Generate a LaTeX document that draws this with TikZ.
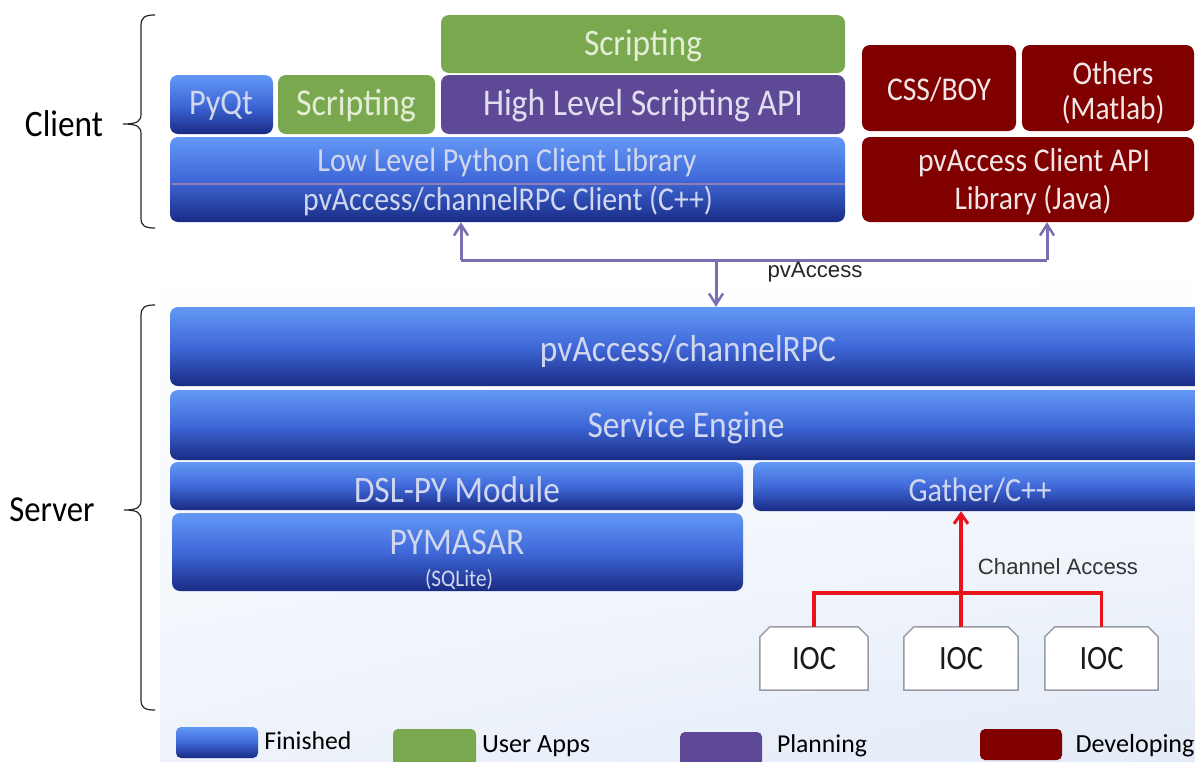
\documentclass[tikz,border=0pt]{standalone}
\usepackage{fontspec}
\setmainfont{Carlito}
\newfontfamily\arialf{Liberation Sans}
\usetikzlibrary{arrows.meta,calc,fit,shadings}
\definecolor{bluetop}{HTML}{6398F5}
\definecolor{bluemid}{HTML}{3F68D8}
\definecolor{bluebot}{HTML}{192B84}
\definecolor{appgreen}{HTML}{79A84F}
\definecolor{planpurple}{HTML}{5E4996}
\definecolor{devred}{HTML}{800000}
\definecolor{linkpurple}{HTML}{7D6EB3}
\definecolor{carred}{HTML}{E8141C}
\definecolor{bluetext}{HTML}{D0D7EE}
\definecolor{greentext}{HTML}{E4EDD6}
\definecolor{purpletext}{HTML}{E2DEF0}
\definecolor{redtext}{HTML}{F3E6E6}
\definecolor{bgblue}{HTML}{E3EBF8}
\definecolor{iocgray}{HTML}{9A9AA8}
\newcommand\tw[2]{\scalebox{1}[1.12]{\resizebox{#1}{!}{#2}}}
\newcommand\lw[2]{\resizebox{#1}{!}{#2}}
\begin{document}
\begin{tikzpicture}[x=1pt,y=-1pt,
  boxbase/.style={rounded corners=8pt, inner sep=0pt, draw=none},
  bluebox/.style={boxbase, top color=bluetop, bottom color=bluebot, middle color=bluemid},
  greenbox/.style={boxbase, fill=appgreen},
  purplebox/.style={boxbase, fill=planpurple},
  redbox/.style={boxbase, fill=devred},
  ioc/.style={inner sep=0pt, draw=none},
  txt/.style={inner sep=0pt, font=\fontsize{30}{36}\selectfont},
  btxt/.style={txt, text=bluetext},
  gtxt/.style={txt, text=greentext},
  ptxt/.style={txt, text=purpletext},
  rtxt/.style={txt, text=redtext},
  ktxt/.style={txt, text=black!90},
  link/.style={draw=linkpurple, line width=3pt},
  linkarrow/.style={link, -{Straight Barb[length=11pt,width=14pt,line width=2.5pt]}},
  redlink/.style={draw=carred, line width=3.5pt},
  redarrow/.style={redlink, -{Straight Barb[length=10pt,width=14pt,line width=3pt]}},
  bracepath/.style={draw=black!85, line width=1.2pt}
]
\useasboundingbox (0,0) rectangle (1195,761);
\clip (0,0) rectangle (1195,761);
% faint background
\shade[upper left=white, upper right=white, lower left=white!40!bgblue, lower right=bgblue] (160,270) rectangle (1195,761);

% ---------- Client ----------
\node[greenbox, fit={(441,15) (845,73)}] (scrtop) {};
\node[bluebox, fit={(170,75) (273,134)}] (pyqt) {};
\node[greenbox, fit={(278,75) (435,134)}] (scrsmall) {};
\node[purplebox, fit={(441,75) (845,134)}] (hlapi) {};
\node[bluebox, fit={(170,137) (845,222)}] (lowlvl) {};
\draw[draw=planpurple!70!white, line width=2pt] (lowlvl.west |- 0,184) ++(2,0) coordinate (dl) -- (dl -| lowlvl.east);
\node[redbox, fit={(862,45) (1016,131)}] (cssboy) {};
\node[redbox, fit={(1022,45) (1194,131)}] (others) {};
\node[redbox, fit={(862,137) (1194,222)}] (javaapi) {};

\node[gtxt] (t1) at (643,46) {\tw{118pt}{Scripting}};
\node[btxt] (t2) at (221,106) {\tw{64pt}{PyQt}};
\node[gtxt] (t3) at (356,106) {\tw{120pt}{Scripting}};
\node[ptxt] (t4) at (643,106) {\tw{320pt}{High Level Scripting API}};
\node[btxt] (t5) at (507,163) {\tw{379pt}{Low Level Python Client Library}};
\node[btxt] (t6) at (508,201) {\tw{410pt}{pvAccess/channelRPC Client (C++)}};
\node[rtxt] (t7) at (939,90) {\tw{104pt}{CSS/BOY}};
\node[rtxt] (t8) at (1113,73) {\tw{81pt}{Others}};
\node[rtxt] (t9) at (1113,110) {\tw{103pt}{(Matlab)}};
\node[rtxt] (t10) at (1034,163) {\tw{232pt}{pvAccess Client API}};
\node[rtxt] (t11) at (1033,200) {\tw{157pt}{Library (Java)}};

% ---------- Server ----------
\node[bluebox, fit={(170,307) (1215,386)}] (pvrpc) {};
\node[bluebox, fit={(170,390) (1215,460)}] (sveng) {};
\node[bluebox, fit={(170,462) (743,510)}] (dslpy) {};
\node[bluebox, fit={(753,462) (1215,511)}] (gather) {};
\node[bluebox, fit={(172,513) (743,591)}] (pymasar) {};

\node[btxt] (t12) at (688,351) {\tw{296pt}{pvAccess/channelRPC}};
\node[btxt] (t13) at (686,428) {\tw{197pt}{Service Engine}};
\node[btxt] (t14) at (457,490) {\tw{206pt}{DSL-PY Module}};
\node[btxt] (t15) at (980,490) {\tw{143pt}{Gather/C++}};
\node[btxt] (t16) at (457,542) {\tw{135pt}{PYMASAR}};
\node[btxt] (t17) at (459,579) {\tw{68pt}{(SQLite)}};

% IOC boxes
\foreach \n/\xa/\xb in {ioc1/760/868, ioc2/904/1018, ioc3/1045/1158}{
  \node[ioc, fit={(\xa,627) (\xb,690)}] (\n) {};
  \draw[draw=iocgray, fill=white, line width=1.5pt]
    (\n.south west) -- ($(\n.north west)+(0,10)$) -- ($(\n.north west)+(10,0)$)
    -- ($(\n.north east)+(-10,0)$) -- ($(\n.north east)+(0,10)$) -- (\n.south east) -- cycle;
}
\node[ktxt] (t18) at (ioc1.center) {\tw{44pt}{IOC}};
\node[ktxt] (t19) at (ioc2.center) {\tw{44pt}{IOC}};
\node[ktxt] (t20) at (ioc3.center) {\tw{44pt}{IOC}};

% red channel access connectors
\coordinate (rj) at ($(ioc2.north)+(0,-34)$);
\draw[redlink] (ioc1.north) -- (ioc1.north |- rj) -- (ioc3.north |- rj) -- (ioc3.north);
\draw[redlink] (ioc2.north) -- (rj);
\draw[redarrow] (rj) -- (rj |- gather.south);
\node[inner sep=0pt, text=black!80, font=\arialf] (ca) at (1058,567) {\lw{160pt}{Channel Access}};

% purple pvAccess connectors
\coordinate (pa) at (461,260);
\coordinate (pb) at (1047,260);
\coordinate (pc) at (716,260);
\draw[link] (pa) -- (pb);
\draw[linkarrow] (pa) -- (pa |- lowlvl.south);
\draw[linkarrow] (pb) -- (pb |- javaapi.south);
\draw[linkarrow] (pc) -- (pc |- pvrpc.north);
\node[inner sep=0pt, text=black!85, font=\arialf] (pvlabel) at (815,272) {\lw{95pt}{pvAccess}};

% braces
\draw[bracepath] (155,15) .. controls (145,15) and (141,17) .. (141,26) -- (141,114)
  .. controls (141,121) and (138,124) .. (123,124)
  .. controls (138,124) and (141,127) .. (141,134) -- (141,218)
  .. controls (141,226) and (145,228) .. (155,228);
\draw[bracepath] (155,305) .. controls (145,305) and (141,307) .. (141,316) -- (141,500)
  .. controls (141,507) and (138,510) .. (124,510)
  .. controls (138,510) and (141,513) .. (141,520) -- (141,700)
  .. controls (141,708) and (145,710) .. (155,710);
\node[ktxt, text=black] (client) at (64,124) {\tw{78pt}{Client}};
\node[ktxt, text=black] (server) at (52,510) {\tw{85pt}{Server}};

% legend
\node[bluebox, rounded corners=5pt, fit={(176,727) (258,758)}] (lg1) {};
\node[greenbox, rounded corners=5pt, fit={(393,729) (476,766)}] (lg2) {};
\node[purplebox, rounded corners=5pt, fit={(680,732) (762,766)}] (lg3) {};
\node[redbox, rounded corners=5pt, fit={(980,729) (1062,760)}] (lg4) {};
\node[ktxt, text=black] (l1) at (308,741) {\lw{87pt}{Finished}};
\node[ktxt, text=black] (l2) at (536,746) {\lw{108pt}{User Apps}};
\node[ktxt, text=black] (l3) at (822,746) {\lw{90pt}{Planning}};
\node[ktxt, text=black] (l4) at (1135,746) {\lw{119pt}{Developing}};
\end{tikzpicture}
\end{document}
